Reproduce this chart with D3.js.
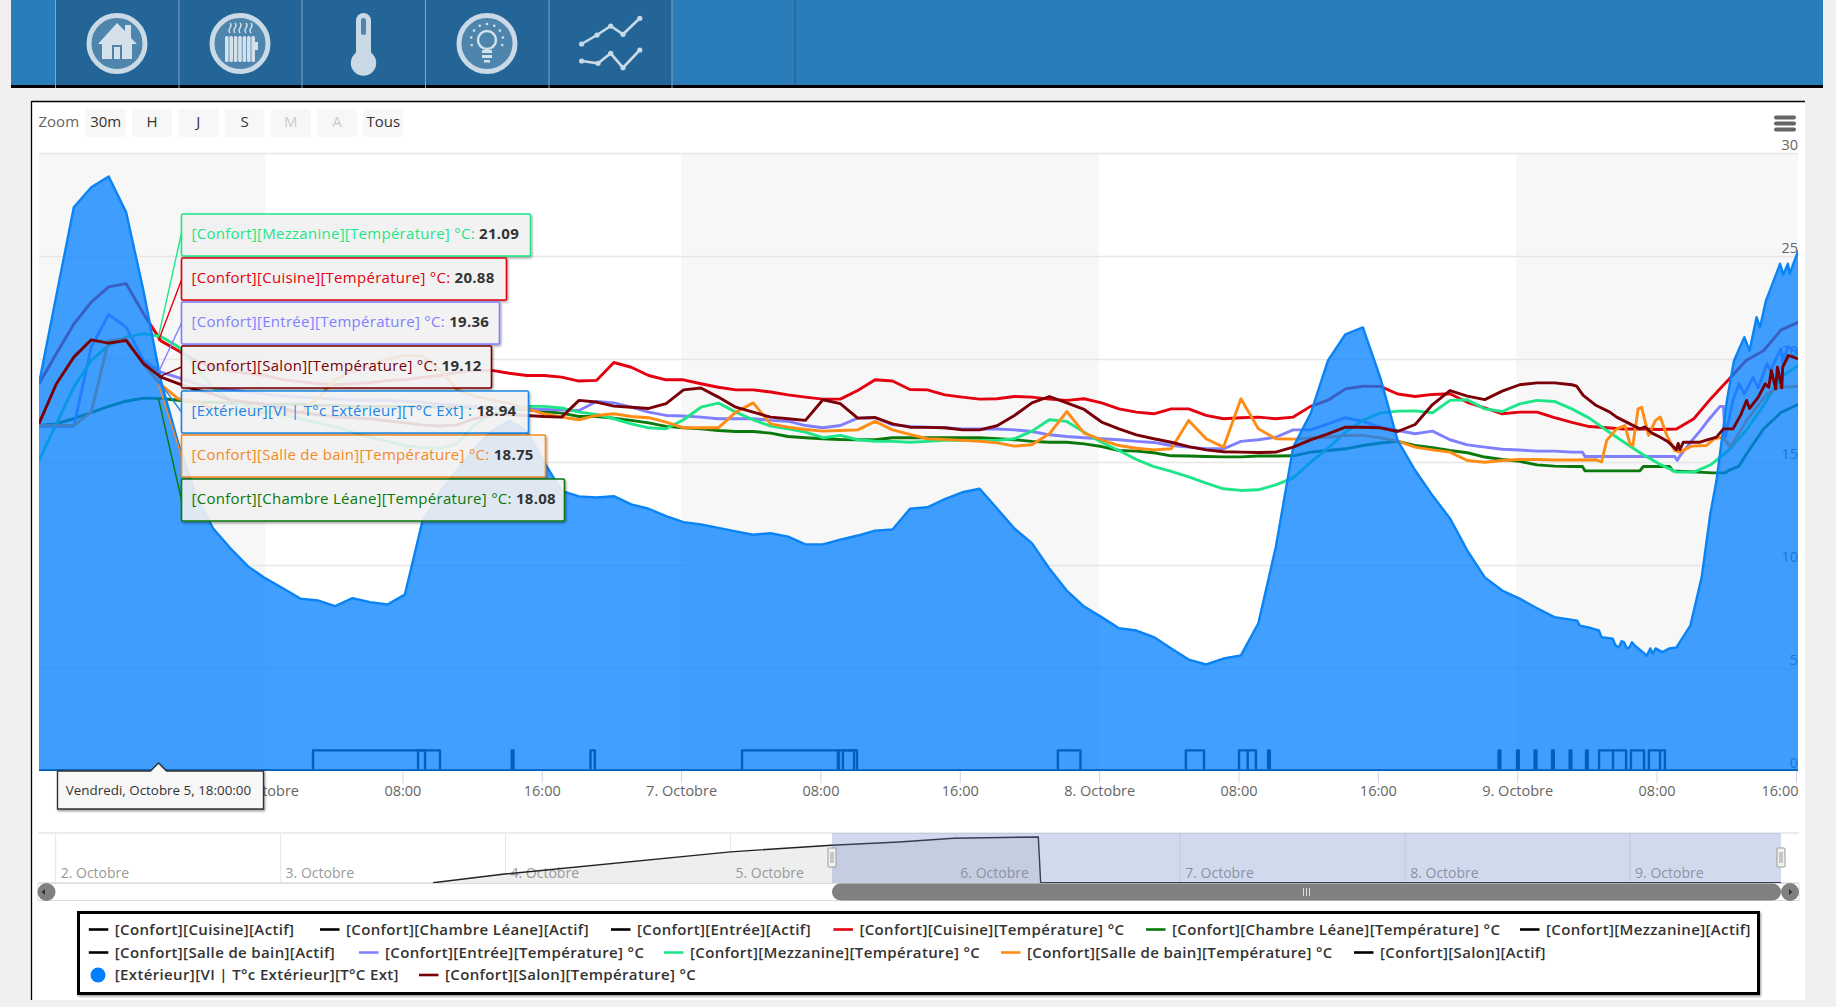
<!DOCTYPE html>
<html><head><meta charset="utf-8">
<script src="https://cdn.jsdelivr.net/npm/d3@7"></script>
<style>
html,body{margin:0;padding:0;background:#f0f0f0;overflow:hidden}
text{font-family:"Open Sans",sans-serif}
</style></head><body>
<svg id="c" width="1836" height="1007"></svg>
<script>
// ---------- data (temperature in °C, sampled hourly from firstSampleHour; hours counted from 5 Oct 00:00) ----------
const firstSampleHour = 11.14;
const cuisineTemp = [18.8,20.27,21.7,22.76,23.5,23.66,22.2,20.88,20.4,19.9,19.6,19.4,19.3,19.2,19.0,18.9,18.8,18.75,18.8,18.85,18.95,19.0,19.1,19.2,19.35,19.45,19.45,19.31,19.2,19.2,19.12,18.93,18.96,19.83,19.6,19.2,18.99,18.99,18.8,18.63,18.5,18.5,18.4,18.26,18.15,18.05,18.05,18.47,18.99,18.93,18.52,18.5,18.26,18.15,18.05,18.07,18.18,18.15,18.05,17.99,18.07,17.87,17.58,17.42,17.34,17.58,17.58,17.26,17.1,17.15,17.18,17.1,17.18,17.7,18.0,18.55,18.68,18.67,18.3,18.18,18.28,18.31,17.9,17.63,17.34,17.42,17.42,17.15,16.92,16.72,16.66,16.6,16.6,16.58,16.6,17.1,18.1,19.0,19.93,20.4,21.4,21.79];
const chambreTemp = [16.77,16.86,17.1,17.4,17.7,17.95,18.1,18.08,18.0,17.9,17.9,17.85,17.85,17.8,17.8,17.8,17.75,17.75,17.7,17.7,17.7,17.7,17.7,17.65,17.65,17.65,17.62,17.55,17.55,17.45,17.37,17.21,17.21,17.13,17.02,16.9,16.73,16.66,16.61,16.53,16.48,16.48,16.4,16.24,16.18,16.13,16.09,16.08,16.08,16.18,16.18,16.18,16.18,16.18,16.18,16.13,16.08,16.0,15.96,15.96,15.88,15.75,15.56,15.53,15.45,15.3,15.29,15.27,15.25,15.25,15.29,15.29,15.3,15.48,15.56,15.64,15.8,15.92,16.0,15.8,15.69,15.56,15.45,15.24,15.12,15.03,14.86,14.8,14.78];
const chambreTempEnd = [[88.6,14.78],[88.75,14.57],[91.9,14.57],[92.1,14.78],[93.6,14.78],[93.8,14.57],[96.1,14.47],[96.8,14.47],[97.0,14.59],[97.6,14.8],[98.03,15.4],[99,16.6],[100,17.4],[101,17.8]];
const entreeTemp = [16.73,16.73,16.73,20.58,22.16,21.55,19.93,19.36,19.1,18.8,18.6,18.5,18.4,18.3,18.2,18.15,18.1,18.05,18.0,18.0,18.0,17.95,17.9,17.8,17.75,17.7,17.65,17.6,17.58,17.55,17.53,17.5,17.94,17.87,17.66,17.42,17.26,17.23,17.18,17.1,17.1,17.1,17.02,16.98,16.77,16.66,16.77,17.13,17.15,16.8,16.73,16.69,16.66,16.61,16.6,16.6,16.56,16.48,16.32,16.24,16.18,16.13,16.08,16.0,15.95,15.8,15.72,15.64,15.64,16.0,16.08,16.2,16.56,16.56,16.85,17.15,16.97,16.69,16.53,16.37,16.5,16.08,15.83,15.72,15.62,15.58,15.53,15.53,15.48];
const entreeTempEnd = [[88.6,15.48],[88.75,15.27],[93.9,15.27],[94.05,15.08],[94.2,15.3],[94.9,16.05],[95.35,16.5],[95.8,17.0],[96.5,17.7],[96.7,17.7],[96.8,16.2],[97.25,18],[97.6,18.8],[97.9,18.3],[98.4,19.1],[98.7,18.6],[99.2,19.77],[99.4,19.44],[100,20.5],[100.1,19.77],[100.4,20.6],[101,20.25]];
const mezzanineTemp = [15.08,16.86,18.64,19.93,20.66,21.06,21.23,21.09,20.6,19.6,18.6,18.0,17.7,17.5,17.3,17.1,16.9,16.7,16.45,16.2,16.0,15.8,15.7,15.65,15.9,16.8,17.3,17.6,17.7,17.7,17.62,17.42,17.31,17.1,16.85,16.66,16.61,17.05,17.66,17.86,17.42,17.05,16.74,16.61,16.45,16.18,16.29,16.08,16.01,16.0,15.96,16.0,16.05,16.05,16.05,16.05,16.13,16.5,17.05,16.97,16.45,15.96,15.56,15.12,14.78,14.54,14.28,13.97,13.7,13.62,13.65,13.89,14.23,14.99,15.67,16.45,17.02,17.37,17.47,17.48,17.39,17.99,18.02,17.58,17.45,17.82,17.99,17.94,17.58,17.13,16.53,15.96,15.4,14.91,14.51,14.51,14.88,15.56,16.53,17.74,19.12,19.69];
const salleDeBainTemp = [16.78,16.78,16.78,17.42,20.9,20.98,19.74,18.75,18.07,17.9,17.6,17.5,17.4,17.4,17.4,17.4,18.1,19.0,19.4,19.7,20.0,20.17,20.15,19.5,18.5,18.2,18.0,17.85,17.58,17.34,17.18,17.05,17.26,17.34,17.21,17.15,16.94,16.66,16.66,16.66,17.42,17.87,16.85,16.69,16.58,16.5,16.53,16.56,16.97,16.56,16.34,16.13,16.09,16.05,16.01,15.93,15.77,15.84,16.37,17.45,16.4,16.08,15.8,15.67,15.59,15.64,17.02,16.13,15.72,18.07,16.61,16.13,16.11,16.17,16.2,16.29,16.29,16.17,16.01,15.72,15.59,15.48,15.07,14.99,15.07,15.12,15.12,15.1,15.1];
const salleDeBainTempEnd = [[89.4,15.11],[89.7,15.0],[90.0,16.05],[90.57,16.61],[91.05,16.77],[91.33,15.88],[91.5,15.8],[91.8,17.58],[92.0,17.66],[92.4,16.29],[92.8,17.02],[93.07,17.18],[93.45,16.29],[93.9,15.56],[94.2,15.48],[94.87,15.77],[95.7,15.8],[96.2,16.13],[96.65,16.21],[97.1,15.73],[98.03,17.02],[99.2,18.31],[99.9,18.63],[101,18.67]];
const salonTemp = [16.86,18.8,20.09,20.93,20.77,20.9,19.77,19.12,18.8,18.5,18.3,18.0,17.9,17.8,17.6,17.4,17.3,17.2,17.15,17.1,17.0,16.9,16.8,16.75,16.8,17.1,17.3,17.3,17.26,17.21,17.18,17.99,17.91,17.71,17.66,17.6,17.83,18.5,18.59,18.15,17.66,17.42,17.18,17.1,17.02,18.02,17.83,17.13,17.16,16.85,16.69,16.68,16.66,16.56,16.56,16.76,17.26,17.87,18.18,17.87,17.55,16.94,16.61,16.32,16.13,15.96,15.75,15.59,15.5,15.48,15.46,15.48,15.72,16.07,16.37,16.69,16.69,16.66,16.48,16.82,17.79,18.47,18.2,18.03,18.44,18.75,18.84,18.84,18.75];
const salonTempEnd = [[88.27,18.68],[88.65,18.23],[89.4,17.74],[90.18,17.42],[90.57,17.18],[91.33,16.85],[91.9,16.61],[92.2,16.7],[92.6,16.4],[93.05,16.21],[93.5,16.0],[94.0,15.6],[94.1,15.9],[94.2,15.6],[94.4,15.96],[95.35,15.96],[96.3,16.21],[96.7,16.61],[97.25,16.61],[97.7,17.3],[98.03,17.99],[98.2,17.6],[98.7,18.15],[99.1,18.8],[99.3,18.63],[99.45,19.44],[99.7,18.55],[99.8,19.6],[100.05,18.6],[100.1,19.6],[100.43,20.17],[101,20.0]];
const exterieurTemp = [18.8,23.1,27.37,28.34,28.86,27.13,23.3,18.94,15.9,13.4,11.77,10.8,9.93,9.35,8.87,8.37,8.28,8.0,8.39,8.2,8.08,8.56,12.08,13.5,14.6,15.65,16.5,17.0,16.5,15.0,13.6,13.33,13.28,13.34,12.94,12.73,12.37,12.08,11.97,11.8,11.63,11.47,11.54,11.38,11.0,11.0,11.23,11.43,11.67,11.72,12.73,12.8,13.2,13.53,13.7,12.74,11.77,11.06,9.83,8.76,7.98,7.47,6.93,6.82,6.5,5.95,5.41,5.17,5.46,5.61,7.17,10.86,15.72,17.35,19.93,21.2,21.53,19.1,16.04,14.6,13.37,12.26,10.7,9.4,8.76,8.37,7.9,7.47];
const exterieurTempEnd = [[88.3,7.3],[88.46,7.06],[88.9,6.98],[89.55,6.82],[89.7,6.5],[90.35,6.42],[90.5,6.1],[90.7,6.0],[90.85,6.3],[91,6.25],[91.15,5.95],[91.3,6.0],[91.45,6.25],[91.6,6.1],[91.95,5.85],[92.3,5.6],[92.5,5.95],[92.65,5.7],[92.8,5.95],[93.2,5.77],[93.6,5.95],[94,6.0],[94.8,7.06],[95.45,9.4],[95.95,12.5],[96.3,14.1],[96.9,18.0],[97.3,19.9],[97.65,20.58],[97.9,21.06],[98.2,20.4],[98.6,22.03],[98.8,21.54],[99.14,22.84],[99.37,23.33],[99.95,24.62],[100.14,24.1],[100.4,24.62],[100.5,24.14],[101,25.27]];

// on/off periods (start hour, end hour) of the "Actif" series
const cuisineActif = [[26.87,33.3],[38.28,38.38]];
const chambreActif = [[32.9,34.16],[42.8,43.05]];
const entreeActif = [[51.5,57.06],[57.29,57.93]];
const mezzanineActif = [[57.0,58.1],[69.63,70.93]];
const salleDeBainActif = [[76.98,78.02],[80.03,81],[80.53,81],[81.7,81.8]];
const salonActif = [[94.93,95.03],[95.99,96.09],[97,97.1],[98,98.1],[99.01,99.11],[99.95,100.05],[100.7,102.25],[101.5,102.25],[102.53,103.28],[103.56,104.48],[104.2,104.48]];

const legendRows = [
 ["[Confort][Cuisine][Actif]","[Confort][Chambre Léane][Actif]","[Confort][Entrée][Actif]","[Confort][Cuisine][Température] °C","[Confort][Chambre Léane][Température] °C","[Confort][Mezzanine][Actif]"],
 ["[Confort][Salle de bain][Actif]","[Confort][Entrée][Température] °C","[Confort][Mezzanine][Température] °C","[Confort][Salle de bain][Température] °C","[Confort][Salon][Actif]"],
 ["[Extérieur][VI | T°c Extérieur][T°C Ext]","[Confort][Salon][Température] °C"]];
const tooltipLabels = ["[Confort][Mezzanine][Température] °C: ","[Confort][Cuisine][Température] °C: ","[Confort][Entrée][Température] °C: ","[Confort][Salon][Température] °C: ","[Extérieur][VI | T°c Extérieur][T°C Ext] : ","[Confort][Salle de bain][Température] °C: ","[Confort][Chambre Léane][Température] °C: "];
const tooltipValues = [21.09,20.88,19.36,19.12,18.94,18.75,18.08];
const zoomButtons = ["30m","H","J","S","M","A","Tous"];
const yTicks = [0,5,10,15,20,25,30];
const xTickHours = [24,32,40,48,56,64,72,80,88,96,104,112];
const xTickLabels = ["6. Octobre","08:00","16:00","7. Octobre","08:00","16:00","8. Octobre","08:00","16:00","9. Octobre","08:00","16:00"];
const navDayHours = [-72,-48,-24,0,24,48,72,96];
const navDayLabels = ["2. Octobre","3. Octobre","4. Octobre","5. Octobre","6. Octobre","7. Octobre","8. Octobre","9. Octobre"];
const navHours = [-31.74,-24.1,0,10.77,18,23.8,32.85,33.1,112.1];
const navValues = [0,0.174,0.62,0.754,0.82,0.894,0.92,0,0];

// ---------- colours ----------
const C = {cuisine:"#e4000f",chambre:"#0a780a",entree:"#8080ff",mezz:"#1ee688",sdb:"#ff8c14",salon:"#7a0008",ext:"#007fff",black:"#000"};

// ---------- helpers ----------
const base = Date.UTC(2018,9,5);
const D = h => new Date(base + h*3600e3);
const svg = d3.select("#c");
const H2 = k => firstSampleHour + k;
const pts = (vals,end=[]) => vals.map((v,k)=>[H2(k),v]).concat(end.map(([k,v])=>[H2(k),v]));

const P = {l:39,r:1798,t:153,b:771};
const x = d3.scaleUtc().domain([D(11.14),D(112.12)]).range([P.l,P.r]);
const y = d3.scaleLinear().domain([0,30]).range([P.b,P.t]);
const line = d3.line().x(d=>x(D(d[0]))).y(d=>y(d[1]));
const area = d3.area().x(d=>x(D(d[0]))).y0(y(0)).y1(d=>y(d[1]));

// ---------- page frame ----------
svg.append("rect").attr("x",11).attr("y",0).attr("width",1812).attr("height",85).attr("fill","#2a7db9");
svg.append("rect").attr("x",55).attr("y",0).attr("width",617).attr("height",85).attr("fill","#246597");
svg.append("rect").attr("x",11).attr("y",85).attr("width",1812).attr("height",3).attr("fill","#000");
[55.5,179,302,425.5,549,672].forEach(v=>svg.append("line").attr("x1",v).attr("x2",v).attr("y1",0).attr("y2",88).attr("stroke","#7fa6c6").attr("stroke-width",1));
svg.append("line").attr("x1",795).attr("x2",795).attr("y1",0).attr("y2",85).attr("stroke","#1f5f90").attr("stroke-width",1);

const icCol="#c9d9e6", icIn="#4d85ad";
function ring(cx){svg.append("circle").attr("cx",cx).attr("cy",43.5).attr("r",28).attr("fill",icIn).attr("stroke",icCol).attr("stroke-width",5);}
// house
ring(117);
svg.append("path").attr("fill","#d5e1ea").attr("d","M98 44L117 23L125 31L125 25L131 25L131 38L137 44L132 44L132 59L102 59L102 44Z");
svg.append("rect").attr("x",112).attr("y",45).attr("width",10).attr("height",14).attr("fill",icIn);
svg.append("rect").attr("x",114).attr("y",47).attr("width",6).attr("height",12).attr("fill","#d5e1ea");
// radiator
ring(240);
for(let i=0;i<7;i++) svg.append("rect").attr("x",225+i*4.4).attr("y",36).attr("width",3.6).attr("height",26).attr("rx",1.5).attr("fill","#d5e1ea");
svg.append("rect").attr("x",255).attr("y",42).attr("width",3).attr("height",8).attr("fill","#d5e1ea");
[230,235,240,246,251].forEach(v=>svg.append("path").attr("d",`M${v} 33q-2 -3 0 -5q2 -3 0 -5`).attr("fill","none").attr("stroke","#d5e1ea").attr("stroke-width",1.4));
// thermometer
svg.append("rect").attr("x",356).attr("y",13).attr("width",15).attr("height",50).attr("rx",7.5).attr("fill",icCol);
svg.append("circle").attr("cx",363.5).attr("cy",63).attr("r",12.7).attr("fill",icCol);
svg.append("rect").attr("x",361).attr("y",18).attr("width",5).attr("height",17).attr("rx",2.5).attr("fill",icIn);
// bulb
ring(487);
svg.append("circle").attr("cx",487).attr("cy",40).attr("r",9).attr("fill","none").attr("stroke","#d5e1ea").attr("stroke-width",2.4);
svg.append("rect").attr("x",482).attr("y",50).attr("width",10).attr("height",3).attr("fill","#d5e1ea");
svg.append("rect").attr("x",482).attr("y",55).attr("width",10).attr("height",3).attr("fill","#d5e1ea");
svg.append("rect").attr("x",484).attr("y",60).attr("width",6).attr("height",2.5).attr("fill","#d5e1ea");
d3.range(9).forEach(i=>{const a=Math.PI*(0.9+i*0.15);svg.append("circle").attr("cx",487+16*Math.cos(a)).attr("cy",40+16*Math.sin(a)).attr("r",1.3).attr("fill","#d5e1ea");});
// trend icon
[["M581.6 44L597 35L610.7 26L623 34.3L639.8 18.3"],["M581.6 61L598 63.3L610.7 53.3L623 67.7L639.8 50"]].forEach(d=>svg.append("path").attr("d",d[0]).attr("fill","none").attr("stroke",icCol).attr("stroke-width",2.6));
[[581.6,44],[597,35],[610.7,26],[623,34.3],[639.8,18.3],[581.6,61],[598,63.3],[610.7,53.3],[623,67.7],[639.8,50]].forEach(p=>svg.append("circle").attr("cx",p[0]).attr("cy",p[1]).attr("r",2.6).attr("fill",icCol));

// chart panel
svg.append("rect").attr("x",32).attr("y",101).attr("width",1773).attr("height",899).attr("fill","#fff");
svg.append("line").attr("x1",31.5).attr("x2",1805).attr("y1",101.5).attr("y2",101.5).attr("stroke","#000").attr("stroke-width",1.3);
svg.append("line").attr("x1",31.5).attr("x2",31.5).attr("y1",101).attr("y2",1000).attr("stroke","#000").attr("stroke-width",1.3);

// zoom buttons
svg.append("text").attr("x",38.5).attr("y",127).attr("font-size",15).attr("fill","#666").text("Zoom");
const btnX = d3.scaleLinear().domain([0,6]).range([85.7,363.3]);
zoomButtons.forEach((t,i)=>{
  svg.append("rect").attr("x",btnX(i)).attr("y",109).attr("width",40).attr("height",28).attr("rx",2).attr("fill","#f7f7f7");
  svg.append("text").attr("x",btnX(i)+20).attr("y",126.5).attr("text-anchor","middle").attr("font-size",15).attr("fill",(t==="M"||t==="A")?"#ccc":"#333").text(t);
});
// menu icon
[117.5,123.5,129.5].forEach(v=>svg.append("rect").attr("x",1774).attr("y",v-2).attr("width",22).attr("height",4).attr("rx",2).attr("fill","#666"));

// ---------- plot ----------
svg.append("defs").append("clipPath").attr("id","clip").append("rect").attr("x",P.l).attr("y",P.t-30).attr("width",P.r-P.l).attr("height",P.b-P.t+30);
svg.select("defs").append("filter").attr("id","sh").attr("x","-5%").attr("y","-15%").attr("width","110%").attr("height","130%")
   .append("feDropShadow").attr("dx",1).attr("dy",1.5).attr("stdDeviation",1.2).attr("flood-opacity",0.4);

// bands
[[11.14,24.15],[48,72],[95.95,112.12]].forEach(b=>svg.append("rect").attr("x",x(D(b[0]))).attr("y",P.t).attr("width",x(D(b[1]))-x(D(b[0]))).attr("height",P.b-P.t).attr("fill","#f7f7f7"));

// y axis
const yAxis = d3.axisLeft(y).tickValues(yTicks).tickSize(0).tickFormat(d3.format("d"));
const gy = svg.append("g").attr("transform",`translate(${P.r},0)`).call(yAxis);
gy.select(".domain").remove();
gy.selectAll("text").attr("x",0).attr("dy","-0.22em").attr("font-size",14.5).attr("fill","#666").attr("font-family",'"Open Sans",sans-serif');
gy.selectAll("line").attr("x2",-(P.r-P.l)).attr("stroke","#e6e6e6").attr("stroke-width",1.5);
gy.selectAll(".tick").filter(d=>d===0).select("line").attr("stroke-opacity",0);

// x axis
const xAxis = d3.axisBottom(x).tickValues(xTickHours.map(D)).tickSize(12).tickPadding(2.5).tickFormat((d,i)=>xTickLabels[i]);
const gx = svg.append("g").attr("transform",`translate(0,${P.b})`).call(xAxis);
gx.select(".domain").remove();
gx.selectAll("line").attr("stroke","#ccd6eb");
gx.selectAll("text").attr("font-size",14.5).attr("fill","#666").attr("font-family",'"Open Sans",sans-serif');
gx.selectAll(".tick").filter((d,i)=>i===xTickHours.length-1).select("text").attr("text-anchor","end").attr("x",x(D(112.12))-x(D(112)));

const plot = svg.append("g").attr("clip-path","url(#clip)");
const drawLine=(data,col,w=2.9)=>plot.append("path").datum(data).attr("d",line).attr("fill","none").attr("stroke",col).attr("stroke-width",w).attr("stroke-linejoin","round");

// "Actif" series, all black, under the translucent area
function actifPts(spans){const o=[[11.14,0]];spans.forEach(([a,b])=>{o.push([a,0],[a,1],[b,1],[b,0]);});o.push([112.12,0]);return o;}
[cuisineActif,chambreActif,entreeActif,mezzanineActif,salleDeBainActif,salonActif].forEach(s=>drawLine(actifPts(s),C.black,2.4));

// temperature series
drawLine(pts(cuisineTemp),C.cuisine);
drawLine(pts(chambreTemp,chambreTempEnd),C.chambre);
drawLine(pts(entreeTemp,entreeTempEnd),C.entree);
drawLine(pts(mezzanineTemp),C.mezz);
drawLine(pts(salleDeBainTemp,salleDeBainTempEnd),C.sdb);
// outside temperature area over them
const extPts = pts(exterieurTemp,exterieurTempEnd);
plot.append("path").datum(extPts).attr("d",area).attr("fill",C.ext).attr("fill-opacity",0.75);
drawLine(extPts,"#0a84f5",2.4);
// living room on top
drawLine(pts(salonTemp,salonTempEnd),C.salon);

// ---------- hover tooltips ----------
const tipCols=[C.mezz,C.cuisine,C.entree,C.salon,"#1c85e8","#f28a25",C.chambre];
const tipTop=[214,258,302,346,391,435,479], tipW=[349,325,318,310,347,364,383], tipH=42;
const tipX=181.5, hoverX=x(D(18));
const conY=[233,280,323,367,412,456,500];
tooltipValues.forEach((v,i)=>svg.append("line").attr("x1",hoverX).attr("y1",y(v)).attr("x2",tipX).attr("y2",conY[i]).attr("stroke",tipCols[i]).attr("stroke-width",1.4));
tooltipLabels.forEach((t,i)=>{
  const g=svg.append("g");
  g.append("rect").attr("x",tipX).attr("y",tipTop[i]).attr("width",tipW[i]).attr("height",tipH).attr("rx",1.5).attr("fill","#f7f7f7").attr("fill-opacity",0.85).attr("stroke",tipCols[i]).attr("stroke-width",1.6).attr("filter","url(#sh)");
  const tx=g.append("text").attr("x",191.5).attr("y",tipTop[i]+24.5).attr("font-size",15).attr("letter-spacing",0.28);
  tx.append("tspan").attr("fill",tipCols[i]).text(t);
  tx.append("tspan").attr("fill","#333").attr("font-weight",700).text(tooltipValues[i].toFixed(2));
});
// date tooltip
svg.append("path").attr("d",`M57.5 771H${hoverX-8}L${hoverX} 763L${hoverX+8} 771H263.5V809H57.5Z`).attr("fill","#f7f7f7").attr("stroke","#333").attr("stroke-width",1.4).attr("filter","url(#sh)");
svg.append("text").attr("x",hoverX).attr("y",795).attr("text-anchor","middle").attr("font-size",13.4).attr("fill","#333").text("Vendredi, Octobre 5, 18:00:00");

// ---------- navigator ----------
const N={l:38,r:1781,t:833,b:883};
const nx=d3.scaleUtc().domain([D(-72),D(112.1)]).range([55.7,1781]);
const ny=d3.scaleLinear().domain([0,1]).range([N.b-0.3,N.t]);
svg.append("line").attr("x1",N.l).attr("x2",1799).attr("y1",N.t).attr("y2",N.t).attr("stroke","#e6e6e6").attr("stroke-width",1.5);
svg.append("line").attr("x1",N.l).attr("x2",1799).attr("y1",N.b).attr("y2",N.b).attr("stroke","#ddd").attr("stroke-width",1.5);
navDayHours.forEach((h,i)=>{
  svg.append("line").attr("x1",nx(D(h))).attr("x2",nx(D(h))).attr("y1",N.t).attr("y2",N.b).attr("stroke","#e6e6e6");
});
const navD=navHours.map((h,i)=>[h,navValues[i]]);
svg.append("path").datum(navD).attr("fill","#eee").attr("d",d3.area().x(d=>nx(D(d[0]))).y0(N.b).y1(d=>ny(d[1])));
navDayHours.forEach((h,i)=>{
  svg.append("text").attr("x",nx(D(h))+5).attr("y",878).attr("font-size",14).attr("fill","#999").text(navDayLabels[i]);
});
svg.append("path").datum(navD).attr("fill","none").attr("stroke","#222").attr("stroke-width",1.4).attr("d",d3.line().x(d=>nx(D(d[0]))).y(d=>ny(d[1])));
svg.append("rect").attr("x",832).attr("y",N.t).attr("width",949).attr("height",N.b-N.t).attr("fill","rgb(102,133,194)").attr("fill-opacity",0.3);
[832,1781].forEach(v=>{
  svg.append("rect").attr("x",v-4).attr("y",848).attr("width",8).attr("height",19).attr("rx",1).attr("fill","#f2f2f2").attr("stroke","#999");
  [-1,1].forEach(o=>svg.append("line").attr("x1",v+o).attr("x2",v+o).attr("y1",852).attr("y2",863).attr("stroke","#999"));
});
// scrollbar
svg.append("rect").attr("x",38).attr("y",883.5).attr("width",1761).attr("height",17).attr("fill","#fff").attr("stroke","#ddd");
svg.append("rect").attr("x",832).attr("y",883.5).attr("width",949).attr("height",17).attr("rx",8.5).attr("fill","#808080");
[[37,46.5,"M45 889l-3.5 3l3.5 3Z"],[1781,1790,"M1789 889l3.5 3l-3.5 3Z"]].forEach(b=>{
  svg.append("circle").attr("cx",b[1]).attr("cy",892).attr("r",9).attr("fill","#808080");
  svg.append("path").attr("d",b[2]).attr("fill","#333");
});
[-3,0,3].forEach(o=>svg.append("line").attr("x1",1306.5+o).attr("x2",1306.5+o).attr("y1",888).attr("y2",896).attr("stroke","#ddd"));

// ---------- legend ----------
svg.append("rect").attr("x",78.5).attr("y",912.5).attr("width",1680).attr("height",81).attr("fill","#fff").attr("stroke","#000").attr("stroke-width",3).attr("filter","url(#sh)");
const legendCols=[[C.black,C.black,C.black,C.cuisine,C.chambre,C.black],[C.black,C.entree,C.mezz,C.sdb,C.black],[C.ext,C.salon]];
const legendTextX=[[114.8,346,637,859.4,1172,1546],[114.8,385,690,1027,1380],[114.8,445]];
const legendRowY=[929.5,952.5,975];
legendRows.forEach((row,r)=>row.forEach((t,i)=>{
  const tx=legendTextX[r][i], cy=legendRowY[r];
  if(r===2&&i===0) svg.append("circle").attr("cx",98).attr("cy",cy).attr("r",7.5).attr("fill",C.ext);
  else svg.append("line").attr("x1",tx-26).attr("x2",tx-6.5).attr("y1",cy).attr("y2",cy).attr("stroke",legendCols[r][i]).attr("stroke-width",2.6);
  svg.append("text").attr("x",tx).attr("y",cy+5).attr("font-size",15).attr("letter-spacing",0.36).attr("font-weight",600).attr("fill","#333").text(t);
}));
</script></body></html>
